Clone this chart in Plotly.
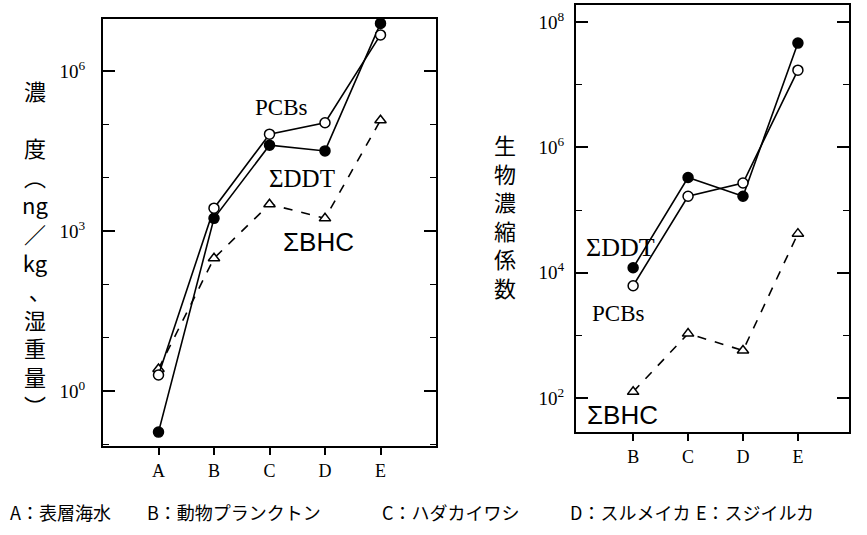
import plotly.graph_objects as go

W, H = 867, 535

# Concentration (ng/kg wet weight), left panel: A-E
conc_sites = ["A", "B", "C", "D", "E"]
conc_pcbs = [2.0, 2700, 66000, 108000, 4.8e6]
conc_ddt = [0.17, 1740, 41000, 32000, 7.9e6]
conc_bhc = [2.6, 310, 3200, 1740, 120000]

# Bioconcentration factor, right panel: B-E
bcf_sites = ["B", "C", "D", "E"]
bcf_pcbs = [6200, 166000, 270000, 1.7e7]
bcf_ddt = [12000, 330000, 166000, 4.6e7]
bcf_bhc = [126, 1070, 575, 42000]

conc_ticks = [1, 1e3, 1e6]
conc_ticktext = ["10<sup>0</sup>", "10<sup>3</sup>", "10<sup>6</sup>"]
conc_minor = [1e-1, 1e1, 1e2, 1e4, 1e5, 1e7]
bcf_ticks = [1e2, 1e4, 1e6, 1e8]
bcf_ticktext = ["10<sup>2</sup>", "10<sup>4</sup>", "10<sup>6</sup>", "10<sup>8</sup>"]
bcf_minor = [1e3, 1e5, 1e7]

caption = ["A：表層海水", "B：動物プランクトン", "C：ハダカイワシ", "D：スルメイカ", "E：スジイルカ"]
caption_x = [8, 145, 380, 568, 694]

# stacked (vertical) axis titles, one entry per line
conc_title = ["濃", "", "度", "︵", "ng", "／", "kg", "\u00a0\u00a0、", "湿", "重", "量", "︶"]
bcf_title = list("生物濃縮係数")

SERIF = "Liberation Serif, Times New Roman, serif"
SANS = "Liberation Sans, Arial, sans-serif"
CJK = "Noto Sans CJK JP, sans-serif"

fig = go.Figure()


def add_series(x, y, xa, ya, symbol, fill, dash):
    fig.add_trace(go.Scatter(
        x=x, y=y, xaxis=xa, yaxis=ya, mode="lines+markers",
        line=dict(color="black", width=1.6, dash=dash),
        marker=dict(symbol=symbol, size=10, color=fill,
                    line=dict(color="black", width=1.5)),
        showlegend=False, cliponaxis=False,
    ))


idx_l = list(range(len(conc_sites)))
idx_r = list(range(len(bcf_sites)))

add_series(idx_l, conc_bhc, "x", "y", "triangle-up", "white", "dash")
add_series(idx_l, conc_ddt, "x", "y", "circle", "black", "solid")
add_series(idx_l, conc_pcbs, "x", "y", "circle", "white", "solid")
add_series(idx_r, bcf_bhc, "x2", "y2", "triangle-up", "white", "dash")
add_series(idx_r, bcf_ddt, "x2", "y2", "circle", "black", "solid")
add_series(idx_r, bcf_pcbs, "x2", "y2", "circle", "white", "solid")


def px(x):
    return x / W


def py(y):
    return 1 - y / H


x_common = dict(
    showgrid=False, zeroline=False, showline=True, linecolor="black", linewidth=2,
    mirror=True, ticks="outside", ticklen=7, tickwidth=1.5, tickcolor="black",
    tickfont=dict(family=SERIF, size=18, color="black"), fixedrange=True,
)
y_common = dict(
    type="log", showgrid=False, zeroline=False, showline=True, linecolor="black",
    linewidth=2, mirror="allticks", ticks="inside", ticklen=12, tickwidth=1.5,
    tickcolor="black", tickfont=dict(family=SERIF, size=19, color="black"),
    tickmode="array", fixedrange=True,
)

fig.update_layout(
    width=W, height=H, margin=dict(l=0, r=0, t=0, b=0),
    paper_bgcolor="white", plot_bgcolor="white",
    xaxis=dict(x_common, domain=[px(103), px(436)], range=[-1, 5],
               tickmode="array", tickvals=idx_l, ticktext=conc_sites, anchor="y"),
    yaxis=dict(y_common, domain=[py(446), py(19)], range=[-1.03, 6.98],
               tickvals=conc_ticks, ticktext=conc_ticktext, anchor="x",
               ticklabelstandoff=12,
               minor=dict(tickvals=conc_minor, ticks="inside", ticklen=6,
                          tickwidth=1.3, tickcolor="black")),
    xaxis2=dict(x_common, domain=[px(576), px(849)], range=[-1.04, 3.93],
                tickmode="array", tickvals=idx_r, ticktext=bcf_sites, anchor="y2"),
    yaxis2=dict(y_common, domain=[py(432), py(5)], range=[1.46, 8.27],
                tickvals=bcf_ticks, ticktext=bcf_ticktext, anchor="x2",
                ticklabelstandoff=6,
                minor=dict(tickvals=bcf_minor, ticks="inside", ticklen=6,
                           tickwidth=1.3, tickcolor="black")),
)

ann = []


def label(x, y, text, size, family, xanchor="center", yanchor="middle"):
    ann.append(dict(x=px(x), y=py(y), xref="paper", yref="paper", text=text,
                    showarrow=False, xanchor=xanchor, yanchor=yanchor,
                    font=dict(family=family, size=size, color="black")))


# series names inside the panels
label(281, 108, "PCBs", 23, SERIF)
label(302, 178, "ΣDDT", 25, SERIF)
label(318, 242, "ΣBHC", 26, SANS)
label(620, 247, "ΣDDT", 26, SERIF)
label(618, 313, "PCBs", 23, SERIF)
label(622, 415, "ΣBHC", 26, SANS)

# vertical axis titles
label(35, 247, "<br>".join(conc_title), 22, "Noto Sans CJK JP, Liberation Sans, sans-serif")
label(505, 216, "<br>".join(bcf_title), 22, CJK)

# site legend along the bottom
for t, x in zip(caption, caption_x):
    label(x, 512, t, 18, CJK, xanchor="left")

fig.update_layout(annotations=ann)
fig.write_html("out.html")
